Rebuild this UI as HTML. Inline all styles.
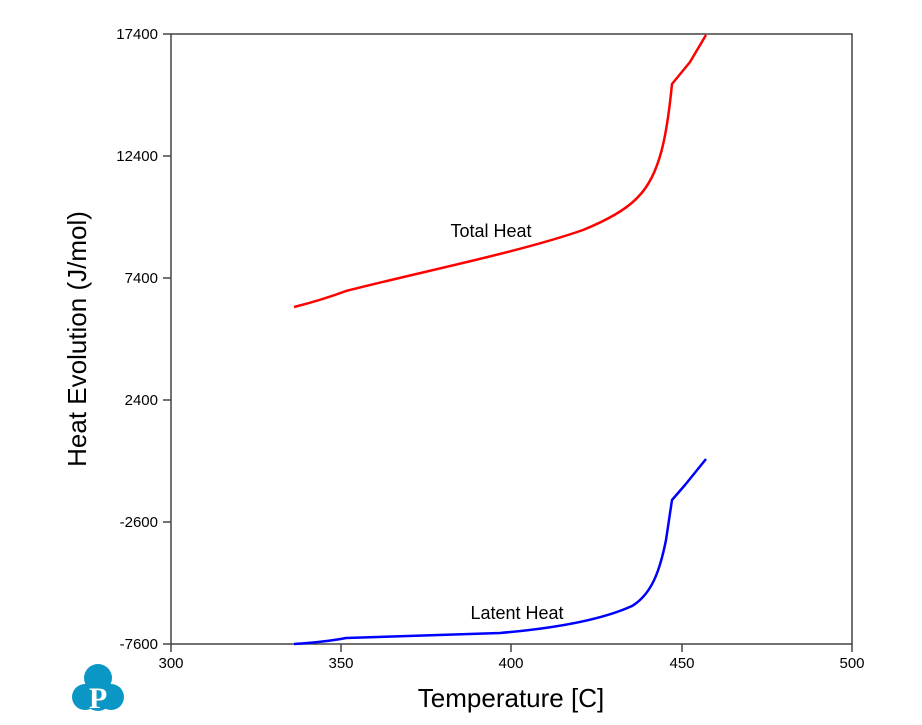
<!DOCTYPE html>
<html><head><style>body{margin:0;background:#fff}</style></head><body>
<svg width="922" height="720" xmlns="http://www.w3.org/2000/svg" font-family="Liberation Sans, sans-serif">
<rect x="171" y="34" width="681" height="610" fill="none" stroke="#444" stroke-width="1.5"/>
<g stroke="#444" stroke-width="1.5">
<line x1="163" y1="34" x2="171" y2="34"/><line x1="163" y1="156" x2="171" y2="156"/><line x1="163" y1="278" x2="171" y2="278"/><line x1="163" y1="400" x2="171" y2="400"/><line x1="163" y1="522" x2="171" y2="522"/><line x1="163" y1="644" x2="171" y2="644"/>
<line x1="171" y1="644" x2="171" y2="652"/><line x1="341" y1="644" x2="341" y2="652"/><line x1="511" y1="644" x2="511" y2="652"/><line x1="682" y1="644" x2="682" y2="652"/><line x1="852" y1="644" x2="852" y2="652"/>
</g>
<g font-size="15" text-anchor="end" fill="#000">
<text x="158" y="39">17400</text><text x="158" y="161">12400</text><text x="158" y="283">7400</text><text x="158" y="405">2400</text><text x="158" y="527">-2600</text><text x="158" y="649">-7600</text>
</g>
<g font-size="15" text-anchor="middle">
<text x="171" y="668">300</text><text x="341" y="668">350</text><text x="511" y="668">400</text><text x="682" y="668">450</text><text x="852" y="668">500</text>
</g>
<text x="511" y="707" font-size="26" text-anchor="middle">Temperature [C]</text>
<text transform="translate(86,339) rotate(-90)" font-size="26" text-anchor="middle">Heat Evolution (J/mol)</text>
<path fill="none" stroke="#f00" stroke-width="2.5" stroke-linejoin="round" d="M294,307 Q322,300 346,291 C420,272 520,252 583,230 C610,219 628,208 638,197 C660,175 667,135 672,84 L690,62 L706,35"/>
<path fill="none" stroke="#00f" stroke-width="2.5" stroke-linejoin="round" d="M294,644 Q325,642 346,638 L500,633 C570,627 610,616 632,606 C652,594 660,570 666,540 L672,500 L685,485 L706,459"/>
<text x="491" y="237" font-size="18" text-anchor="middle">Total Heat</text>
<text x="517" y="619" font-size="18" text-anchor="middle">Latent Heat</text>
<g fill="#0b97c6">
<circle cx="98" cy="678" r="14"/><circle cx="85" cy="697" r="13"/><circle cx="111" cy="697" r="13"/><circle cx="98" cy="697" r="14"/>
</g>
<text x="98" y="708" font-size="30" font-weight="bold" font-family="Liberation Serif, serif" fill="#fff" text-anchor="middle">P</text>
</svg>
</body></html>
